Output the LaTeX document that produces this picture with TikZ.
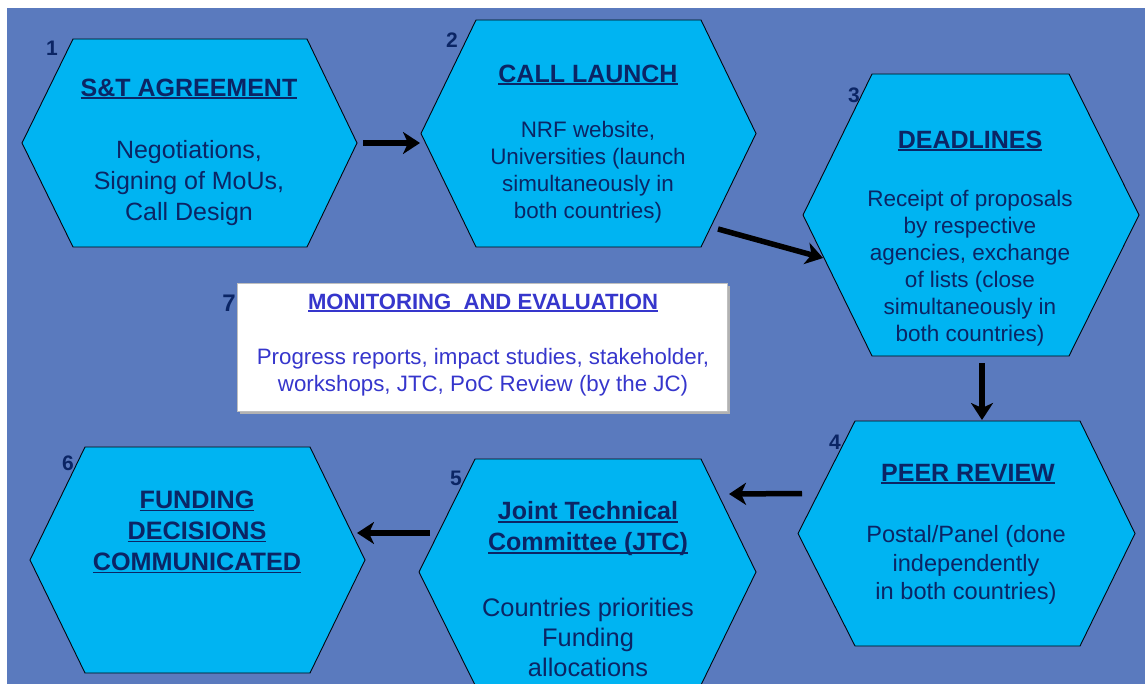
\documentclass[tikz,border=0pt]{standalone}
\usepackage{fontspec}
\setmainfont{Liberation Sans}
\usetikzlibrary{arrows.meta,calc}
\definecolor{bgblue}{HTML}{5A7ABE}
\definecolor{hexfill}{HTML}{00B4F2}
\definecolor{navy}{HTML}{0B2565}
\definecolor{mevio}{HTML}{3636CC}
\newsavebox\ulbox
\newcommand\ulx[1]{\sbox\ulbox{#1}\rlap{\rule[-3pt]{\wd\ulbox}{1.8pt}}\usebox\ulbox}
\newcommand\fs[2]{\fontsize{#1}{#2}\selectfont}
\tikzset{
  hexframe/.style={rectangle, draw=none, inner sep=0pt, outer sep=0pt},
  hexline/.style={draw=black!85!navy, line width=0.9pt, fill=hexfill, line join=miter},
  txt/.style={text=navy, align=center, inner sep=0pt},
  numlab/.style={text=navy, font=\bfseries\fs{21}{24}, inner sep=0pt},
  flow/.style={draw=black, line width=5.5pt, -{Stealth[length=17pt,width=22pt,inset=5pt]}},
  mebox/.style={rectangle, fill=white, draw=black!25, line width=0.6pt, inner sep=0pt}
}
\newcommand\hexagon[7]{%
  \node[hexframe, minimum width=#4pt, minimum height=#5pt] (#1) at (#2,#3) {};
  \draw[hexline] (#1.west) -- ($(#1.north west)+(#6,0)$) -- ($(#1.north east)+(-#7,0)$)
    -- (#1.east) -- ($(#1.south east)+(-#7,0)$) -- ($(#1.south west)+(#6,0)$) -- cycle;}
\begin{document}
\begin{tikzpicture}[x=1pt, y=-1pt]
\useasboundingbox (0,0) rectangle (1145,684);
\fill[white] (0,0) rectangle (1145,684);
\fill[bgblue] (7,8) rectangle (1145,684);

% hexagons
\hexagon{h1}{189.5}{143}{335}{208}{51}{50}
\hexagon{h2}{588.5}{133.5}{335}{227}{55}{55}
\hexagon{h3}{971}{215}{336}{282}{69}{70}
\hexagon{h4}{966.5}{533.5}{337}{225}{57}{55}
\hexagon{h5}{587.5}{572}{337}{226}{56}{55}
\hexagon{h6}{197.5}{560}{335}{226}{55}{55}

% monitoring box
\fill[black!30] (240,286) rectangle (730,414);
\node[mebox, minimum width=490pt, minimum height=128pt] (m7) at (482,347) {};

% arrows
\coordinate (a1s) at ($(h1.east)+(6,0)$);
\coordinate (a1e) at ($(h2.west)+(-1,9.5)$);
\draw[flow] (a1s) -- (a1e);
\coordinate (a2s) at ($(h2.south east)+(-38,-18)$);
\coordinate (a2e) at ($(h3.west)+(20,43)$);
\draw[flow] (a2s) -- (a2e);
\coordinate (a3s) at ($(h3.south)+(11,7)$);
\coordinate (a3e) at ($(h4.north)+(15.5,-1)$);
\draw[flow] (a3s) -- (a3e);
\coordinate (a4s) at ($(h4.west)+(4,-40)$);
\coordinate (a4e) at ($(h5.north east)+(-27,35)$);
\draw[flow] (a4s) -- (a4e);
\coordinate (a5s) at ($(h5.west)+(11,-39)$);
\coordinate (a5e) at ($(h6.east)+(-8,-27)$);
\draw[flow] (a5s) -- (a5e);

% numbers
\node[numlab] (n1) at (52,48) {1};
\node[numlab] (n2) at (452,40) {2};
\node[numlab] (n3) at (854,95) {3};
\node[numlab] (n4) at (835,442) {4};
\node[numlab] (n5) at (456,478) {5};
\node[numlab] (n6) at (68,463) {6};
\node[numlab, font=\bfseries\fs{24}{26}] (n7) at (229,303) {7};

% texts
\node[txt, font=\bfseries\fs{25}{31}] (t1a) at (189,89) {\ulx{S\&T AGREEMENT}};
\node[txt, font=\fs{25}{31}] (t1b) at (189,183) {Negotiations,\\Signing of MoUs,\\Call Design};

\node[txt, font=\bfseries\fs{25}{31}] (t2a) at (588,75) {\ulx{CALL LAUNCH}};
\node[txt, font=\fs{22.4}{27}] (t2b) at (588,172) {NRF website,\\Universities (launch\\simultaneously in\\both countries)};

\node[txt, font=\bfseries\fs{25}{31}] (t3a) at (970,141) {\ulx{DEADLINES}};
\node[txt, font=\fs{22.5}{27}] (t3b) at (970,268) {Receipt of proposals\\by respective\\agencies, exchange\\of lists (close\\simultaneously in\\both countries)};

\node[txt, font=\bfseries\fs{25}{31}] (t4a) at (968,474) {\ulx{PEER REVIEW}};
\node[txt, font=\fs{23.6}{28.5}] (t4b) at (966,565) {Postal/Panel (done\\independently\\in both countries)};

\node[txt, font=\bfseries\fs{25}{31}] (t5a) at (588,529) {\ulx{Joint Technical}\\\ulx{Committee (JTC)}};
\node[txt, font=\fs{25.4}{30}] (t5b) at (588,637) {Countries priorities\\Funding\\allocations};

\node[txt, font=\bfseries\fs{25.2}{31}] (t6a) at (197,532) {\ulx{FUNDING}\\\ulx{DECISIONS}\\\ulx{COMMUNICATED}};

\node[txt, text=mevio, font=\bfseries\fs{22.1}{27}] (t7a) at (483,303) {\ulx{MONITORING\ \ AND EVALUATION}};
\node[txt, text=mevio, font=\fs{22.3}{27}] (t7b) at (483,372) {Progress reports, impact studies, stakeholder,\\workshops, JTC, PoC Review (by the JC)};
\end{tikzpicture}
\end{document}
